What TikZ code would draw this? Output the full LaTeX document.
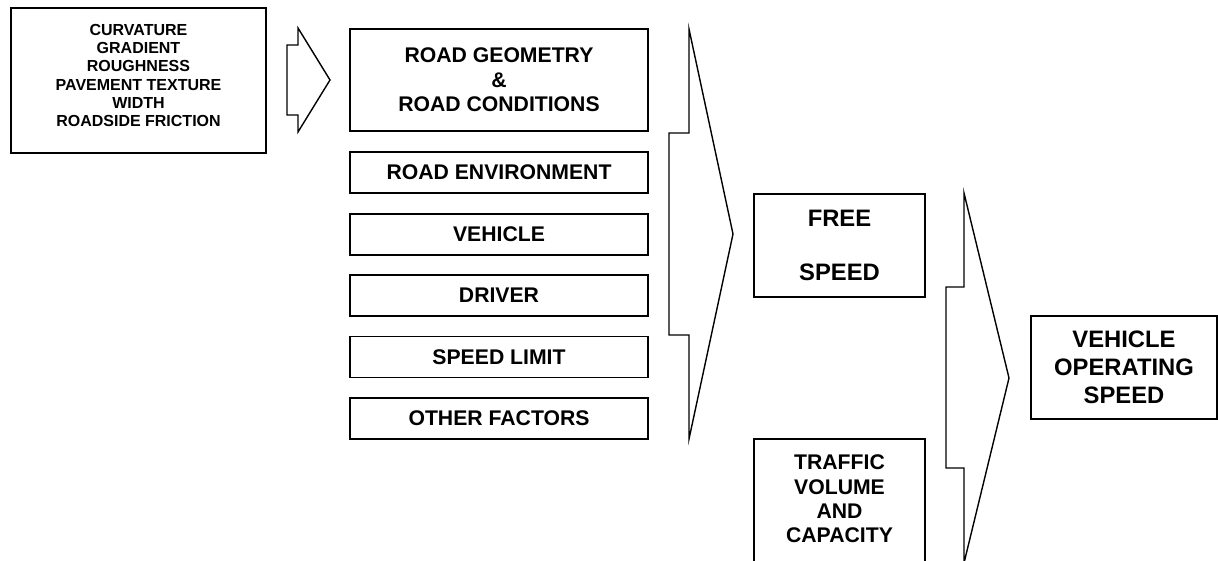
\documentclass[tikz,border=0pt]{standalone}
\usepackage{fontspec}
\setmainfont{Liberation Sans}
\begin{document}
\begin{tikzpicture}[x=1pt,y=-1pt,
  box/.style={draw, line width=1.7pt, rectangle, inner sep=0pt, align=center},
  fa/.style={font=\fontsize{16}{18.3}\selectfont\bfseries},
  fb/.style={font=\fontsize{21.2}{24.5}\selectfont\bfseries},
  fc/.style={font=\fontsize{23.8}{26.8}\selectfont\bfseries},
  blockarrow/.style={draw, line width=1.4pt, line join=miter}]
\path[use as bounding box] (0,0) rectangle (1218,561);
\clip (0,0) rectangle (1218,561);

% factors box
\node[box, minimum width=255pt, minimum height=145pt] (fac) at (138.5,80.5) {};
\node[fa, align=center, inner sep=0pt] (factext) at (138.5,75.5)
  {CURVATURE\\GRADIENT\\ROUGHNESS\\PAVEMENT TEXTURE\\WIDTH\\ROADSIDE FRICTION};

% small arrow
\draw[blockarrow] (287,45) -- (298,45) -- (298,28) -- (330,80) -- (298,132) -- (298,115) -- (287,115) -- cycle;

% left column
\node[box, fb, minimum width=298pt, minimum height=102pt] (geo) at (499,80)
  {ROAD GEOMETRY\\\&\\ROAD CONDITIONS};
\node[box, fb, minimum width=298pt, minimum height=41pt] (env) at (499,172.5) {ROAD ENVIRONMENT};
\node[box, fb, minimum width=298pt, minimum height=41pt] (veh) at (499,234.5) {VEHICLE};
\node[box, fb, minimum width=298pt, minimum height=41pt] (drv) at (499,295.5) {DRIVER};
\node[box, fb, minimum width=298pt, minimum height=41pt] (lim) at (499,357) {SPEED LIMIT};
\node[box, fb, minimum width=298pt, minimum height=41pt] (oth) at (499,418.5) {OTHER FACTORS};

% big arrow 1
\draw[blockarrow] (669,133) -- (689,133) -- (689,29) -- (733,234) -- (689,439) -- (689,335) -- (669,335) -- cycle;

% free speed
\node[box, fc, minimum width=171pt, minimum height=103pt] (free) at (839.5,245.5)
  {FREE\\[26.5pt]SPEED};

% traffic (open at bottom, runs off the page)
\node[align=center, inner sep=0pt, minimum width=171pt, minimum height=120pt,
  font=\fontsize{21.2}{24.4}\selectfont\bfseries] (tra) at (839.5,499)
  {TRAFFIC\\VOLUME\\AND\\CAPACITY};
\draw[line width=1.7pt] ([yshift=-20pt]tra.south west) -- (tra.north west) -- (tra.north east) -- ([yshift=-20pt]tra.south east);

% big arrow 2
\draw[blockarrow] (946,287) -- (964,287) -- (964,193) -- (1009,378) -- (964,563) -- (964,468) -- (946,468) -- cycle;

% vehicle operating speed
\node[box, minimum width=186pt, minimum height=103pt,
  font=\fontsize{23.8}{27.8}\selectfont\bfseries] (vos) at (1124,367.5)
  {VEHICLE\\OPERATING\\SPEED};
\end{tikzpicture}
\end{document}
